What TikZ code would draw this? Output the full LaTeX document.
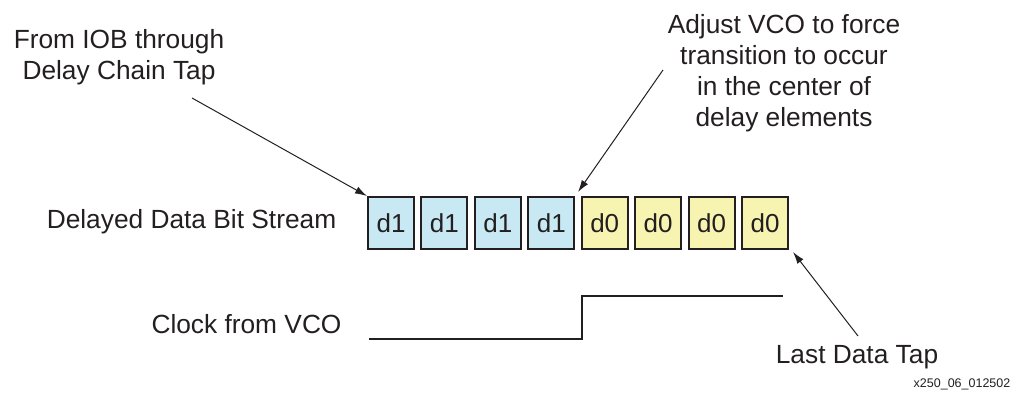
\documentclass[tikz,border=0pt]{standalone}
\usepackage{fontspec}
\setmainfont{Liberation Sans}
\usetikzlibrary{arrows.meta,calc}
\definecolor{ink}{HTML}{231F20}
\definecolor{bluefill}{RGB}{200,233,243}
\definecolor{yelfill}{RGB}{247,243,176}
\tikzset{
  lbl/.style={inner sep=0pt, text=ink, font=\fontsize{26.3}{31}\selectfont},
  cell/.style={draw=ink, line width=2pt, minimum width=46pt, minimum height=52pt, inner sep=0pt, text=ink, font=\fontsize{26}{31}\selectfont},
  bcell/.style={cell, fill=bluefill},
  ycell/.style={cell, fill=yelfill},
  pointer/.style={draw=ink, line width=1pt, -{Latex[length=12pt,width=7.5pt]}},
  wave/.style={draw=ink, line width=2pt}
}
\begin{document}
\begin{tikzpicture}[x=1pt,y=-1pt]
\useasboundingbox (0,0) rectangle (1022,398);
% cells
\foreach \i in {0,1,2,3} {
  \node[bcell] (c\i) at ({391+\i*53.43},223) {d1};
}
\foreach \i in {4,5,6,7} {
  \node[ycell] (c\i) at ({391+\i*53.43},223) {d0};
}
% labels
\node[lbl, anchor=north, align=center] (from) at (119,29) {From IOB through\\Delay Chain Tap};
\node[lbl, anchor=north, align=center] (adj) at (784,14) {Adjust VCO to force\\transition to occur\\in the center of\\delay elements};
\node[lbl, anchor=base] (dds) at (191.5,229) {Delayed Data Bit Stream};
\node[lbl, anchor=base] (clk) at (246.5,333) {Clock from VCO};
\node[lbl, anchor=base] (last) at (857,363) {Last Data Tap};
\node[inner sep=0pt, text=ink, font=\fontsize{12.5}{14}\selectfont, anchor=base] (fig) at (962,387) {x250\_06\_012502};
% pointer arrows
\coordinate (fromtail) at (192,98);
\coordinate (adjtail) at (663,70);
\coordinate (lasttail) at (858,336);
\coordinate (gap) at ($(c3.north east)!0.5!(c4.north west)+(0,-4)$);
\coordinate (lasthead) at ($(c7.south east)+(4,2)$);
\draw[pointer] (fromtail) -- (c0.north west);
\draw[pointer] (adjtail) -- (gap);
\draw[pointer] (lasttail) -- (lasthead);
% clock waveform
\coordinate (w0) at (369,339);
\coordinate (w1) at (582,339);
\coordinate (w2) at (582,296);
\coordinate (w3) at (783,296);
\draw[wave] (w0) -- (w1) -- (w2) -- (w3);
\end{tikzpicture}
\end{document}
